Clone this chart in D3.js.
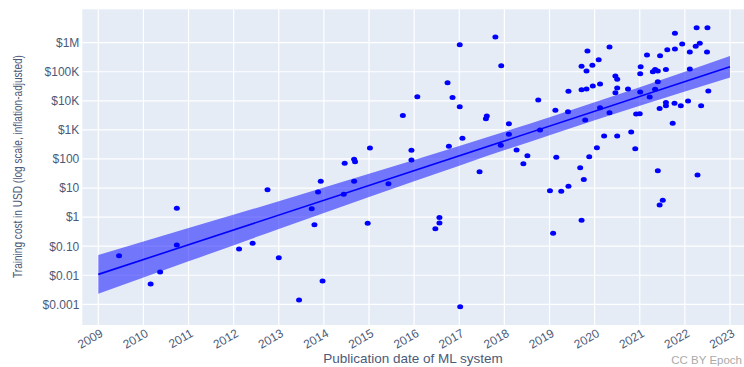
<!DOCTYPE html>
<html>
<head>
<meta charset="utf-8">
<script src="https://cdn.jsdelivr.net/npm/d3@7"></script>
<style>
  html, body { margin: 0; padding: 0; background: #fff; }
  svg { display: block; }
  text { font-family: "Liberation Sans", Arial, sans-serif; }
</style>
</head>
<body>
<svg id="chart" width="744" height="367"></svg>
<script>
// Publication date (decimal year) and training cost (USD) of each ML system
const pubYear = [
  2009.46, 2010.16, 2010.37, 2010.74, 2010.74, 2012.12, 2012.42, 2012.75, 2013.00, 2013.45,
  2013.73, 2013.79, 2013.87, 2013.93, 2013.97, 2014.44, 2014.46, 2014.67, 2014.69, 2014.67,
  2014.97, 2015.43, 2015.94, 2016.47, 2016.56, 2016.56, 2017.02, 2017.45, 2018.42, 2018.51,
  2019.15, 2019.01, 2019.26, 2019.42, 2019.08, 2019.68, 2019.76, 2019.71, 2019.88, 2021.40,
  2021.51, 2021.44, 2022.28, 2015.02, 2015.94, 2015.75, 2016.07, 2016.74, 2016.85, 2017.01,
  2017.01, 2016.77, 2017.07, 2017.80, 2017.93, 2017.61, 2017.59, 2018.10, 2018.10, 2017.92,
  2018.27, 2018.75, 2018.79, 2019.13, 2019.41, 2019.42, 2019.71, 2019.82, 2019.96, 2020.12,
  2019.79, 2020.12, 2020.33, 2019.71, 2019.82, 2019.95, 2019.84, 2020.09, 2020.33, 2020.05,
  2020.21, 2020.50, 2020.81, 2020.90, 2020.92, 2021.00, 2020.46, 2020.50, 2020.50, 2020.46,
  2020.74, 2021.01, 2021.22, 2021.34, 2021.40, 2021.01, 2021.02, 2021.16, 2021.29, 2021.34,
  2021.40, 2021.45, 2021.58, 2021.61, 2021.78, 2021.78, 2021.94, 2022.11, 2022.11, 2022.24,
  2022.33, 2022.26, 2022.50, 2022.49, 2022.52, 2021.44, 2021.58, 2021.58, 2021.77, 2021.91,
  2022.07, 2022.36, 2021.73
];
const trainingCost = [
  0.047, 0.005, 0.013, 2.0, 0.11, 0.08, 0.125, 8.8, 0.04, 0.0014,
  1.95, 0.55, 7.3, 17, 0.0063, 6.1, 71, 98, 81, 17,
  0.62, 14, 92, 0.40, 0.63, 0.96, 0.00083, 36, 69, 129,
  115, 8.0, 7.8, 11.5, 0.28, 50, 19.6, 0.78, 120, 39,
  3.8, 2.6, 28, 240, 200, 3100, 13800, 42000, 13000, 850000,
  6300, 275, 520, 1570000, 162000, 3000, 2400, 1620, 710, 295,
  205, 10700, 1000, 4700, 4200, 21500, 24000, 25500, 32500, 38000,
  2200, 5800, 3900, 155000, 107000, 167000, 520000, 260000, 710000, 245,
  620, 620, 840, 225, 3500, 3600, 71000, 55000, 27600, 19000,
  25600, 20000, 13500, 25000, 45000, 86000, 150000, 380000, 100000, 120000,
  107000, 357000, 120000, 575000, 605000, 2100000, 900000, 480000, 125000, 750000,
  950000, 3300000, 3300000, 480000, 22000, 5500, 8700, 6800, 8300, 6800,
  9800, 6800, 1700
];

// Log-linear trend and its confidence band
const fitYears = [2009, 2023];
const fitCost = [0.0107, 148000];
const bandYears = [2009, 2011, 2013, 2015, 2017, 2019, 2021, 2023];
const bandLow  = [0.0023, 0.030, 0.39, 4.9, 59, 660, 6800, 63000];
const bandHigh = [0.050, 0.42, 3.5, 31, 280, 2750, 29500, 347000];

// Axis ticks
const yearTicks = d3.range(2009, 2024);
const costTicks = [0.001, 0.01, 0.1, 1, 10, 100, 1000, 10000, 100000, 1000000];
const costTickLabels = ["$0.001", "$0.01", "$0.10", "$1", "$10", "$100", "$1K", "$10K", "$100K", "$1M"];

const xTitle = "Publication date of ML system";
const yTitle = "Training cost in USD (log scale, inflation-adjusted)";
const credit = "CC BY Epoch";

const svg = d3.select("#chart");
const plot = { left: 82.3, top: 9.3, right: 744, bottom: 325 };

const x = d3.scaleLinear().domain([2009, 2023]).range([98.3, 730]);
const y = d3.scaleLog().domain([1e-3, 1e6]).range([304.3, 42.7]);

const tickColor = "#4b5a78";

// plot background
svg.append("rect")
  .attr("x", plot.left).attr("y", plot.top)
  .attr("width", plot.right - plot.left).attr("height", plot.bottom - plot.top)
  .attr("fill", "#E5ECF6");

// grid lines
svg.append("g").selectAll("line").data(yearTicks).join("line")
  .attr("x1", d => x(d)).attr("x2", d => x(d))
  .attr("y1", plot.top).attr("y2", plot.bottom)
  .attr("stroke", "#fff").attr("stroke-width", 1.2);
svg.append("g").selectAll("line").data(costTicks).join("line")
  .attr("x1", plot.left).attr("x2", plot.right)
  .attr("y1", d => y(d)).attr("y2", d => y(d))
  .attr("stroke", "#fff").attr("stroke-width", 1.2);

// confidence band
const band = bandYears.map((yr, i) => ({ yr, lo: bandLow[i], hi: bandHigh[i] }));
svg.append("path")
  .datum(band)
  .attr("d", d3.area()
    .x(d => x(d.yr))
    .y0(d => y(d.lo))
    .y1(d => y(d.hi))
    .curve(d3.curveMonotoneX))
  .attr("fill", "rgba(0,0,255,0.5)");

// trend line
svg.append("path")
  .datum(fitYears.map((yr, i) => ({ yr, c: fitCost[i] })))
  .attr("d", d3.line().x(d => x(d.yr)).y(d => y(d.c)))
  .attr("fill", "none")
  .attr("stroke", "#0000ff")
  .attr("stroke-width", 1.6);

// systems
svg.append("g").selectAll("ellipse")
  .data(pubYear.map((yr, i) => ({ yr, c: trainingCost[i] })))
  .join("ellipse")
  .attr("cx", d => x(d.yr))
  .attr("cy", d => y(d.c))
  .attr("rx", 3)
  .attr("ry", 2.5)
  .attr("fill", "#0000ff");

// y axis tick labels
const yAxis = svg.append("g")
  .attr("transform", `translate(${plot.left},0)`)
  .call(d3.axisLeft(y).tickValues(costTicks)
    .tickFormat((d, i) => costTickLabels[i]).tickSize(0).tickPadding(3));
yAxis.select(".domain").remove();
yAxis.selectAll("text")
  .attr("fill", tickColor)
  .style("font-size", "12px");

// x axis tick labels, tilted
const xAxis = svg.append("g")
  .attr("transform", `translate(0,${plot.bottom})`)
  .call(d3.axisBottom(x).tickValues(yearTicks).tickFormat(d3.format("d")).tickSize(0));
xAxis.select(".domain").remove();
xAxis.selectAll("text")
  .attr("fill", tickColor)
  .style("font-size", "12px")
  .attr("text-anchor", "end")
  .attr("dy", "0.35em")
  .attr("transform", "translate(3,7) rotate(-30)")
  .attr("y", 0);

// axis titles
svg.append("text")
  .attr("x", 413).attr("y", 363)
  .attr("text-anchor", "middle")
  .attr("fill", tickColor)
  .style("font-size", "13.5px")
  .text(xTitle);

// condensed vertical title: squeeze along its run to a fixed length
const yTitleText = svg.append("text")
  .attr("text-anchor", "middle")
  .attr("fill", tickColor)
  .style("font-size", "13.5px")
  .text(yTitle);
const naturalLen = yTitleText.node().getComputedTextLength();
const squeeze = 223 / naturalLen;
yTitleText.attr("transform", `translate(22,166.5) rotate(-90) scale(${squeeze},1)`);

svg.append("text")
  .attr("x", 742).attr("y", 364)
  .attr("text-anchor", "end")
  .attr("fill", "#aaaaaa")
  .style("font-size", "11.5px")
  .text(credit);
</script>
</body>
</html>
